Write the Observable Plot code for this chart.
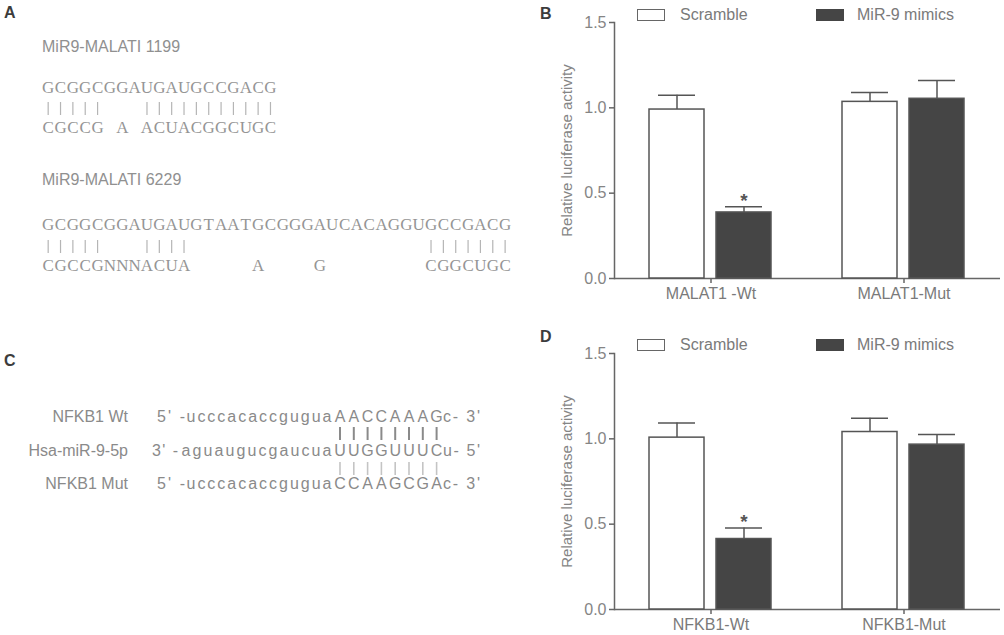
<!DOCTYPE html>
<html><head><meta charset="utf-8">
<script src="https://cdn.jsdelivr.net/npm/d3@7"></script>
<script src="https://cdn.jsdelivr.net/npm/@observablehq/plot@0.6"></script>
<style>
body{margin:0;background:#fff;}
#root{position:relative;width:1004px;height:635px;overflow:hidden;font-family:"Liberation Sans",Arial,sans-serif;}
.abs{position:absolute;}
.panel{position:absolute;font-weight:bold;font-size:16px;color:#3c3c3c;line-height:1;}
.leg{position:absolute;font-size:16px;color:#7a7a7a;line-height:1;white-space:nowrap;}
.sw{position:absolute;box-sizing:border-box;width:28px;height:12px;border:1.5px solid #666;}
</style></head>
<body><div id="root"></div>
<script>
// ---------- data ----------
const seriesNames = ["Scramble", "MiR-9 mimics"];
const yTicks = [0, 0.5, 1.0, 1.5];
const yLabel = "Relative luciferase activity";

// Panel B
const groupsB = ["MALAT1 -Wt", "MALAT1-Mut"];
const scrambleB = [0.99, 1.035];
const scrambleErrB = [0.083, 0.055];
const mimicsB = [0.387, 1.053];
const mimicsErrB = [0.033, 0.107];
const sigB = [true, false];

// Panel D
const groupsD = ["NFKB1-Wt", "NFKB1-Mut"];
const scrambleD = [1.007, 1.04];
const scrambleErrD = [0.086, 0.08];
const mimicsD = [0.413, 0.966];
const mimicsErrD = [0.064, 0.059];
const sigD = [true, false];

// Panel A
const aTitles = ["MiR9-MALATI 1199", "MiR9-MALATI 6229"];
const aTop = ["GCGGCGGAUGAUGCCGACG", "GCGGCGGAUGAUGTAATGCGGGAUCACAGGUGCCGACG"];
const aPairs = ["|||||   |||||||||||", "|||||   ||||                   |||||||"];
const aBottom = ["CGCCG A ACUACGGCUGC", "CGCCGNNNACUA     A    G        CGGCUGC"];

// Panel C
const cLabels = ["NFKB1 Wt", "Hsa-miR-9-5p", "NFKB1 Mut"];
const cPrefix = ["5' -", "3' -", "5' -"];
const cLower = ["ucccacaccgugua", "aguaugucgaucua", "ucccacaccgugua"];
const cUpper = ["AACCAAAG", "UUGGUUUC", "CCAAGCGA"];
const cSuffix = ["c- 3'", "u- 5'", "c- 3'"];

// ---------- layout ----------
const root = document.getElementById("root");

function addDiv(cls, left, top, text, extra) {
  const d = document.createElement("div");
  d.className = cls;
  d.style.left = left + "px";
  d.style.top = top + "px";
  if (text) d.textContent = text;
  if (extra) Object.assign(d.style, extra);
  root.appendChild(d);
  return d;
}

// Panel letters
addDiv("panel", 4, 5, "A");
addDiv("panel", 540, 6, "B");
addDiv("panel", 4, 353, "C");
addDiv("panel", 540, 329, "D");

// Text panels A and C
const svg = d3.create("svg").attr("width", 520).attr("height", 635)
  .style("position", "absolute").style("left", "0px").style("top", "0px");
root.appendChild(svg.node());

const aLayout = [
  {title: 52, top: 93, bar1: 102, bar2: 115, bottom: 133},
  {title: 185, top: 230, bar1: 240, bar2: 253, bottom: 271}
];
const ax0 = 42, aw = 12.35;
aTitles.forEach((t, k) => {
  const L = aLayout[k];
  svg.append("text").attr("x", 42).attr("y", L.title).text(t)
    .attr("font-family", "Liberation Sans, Arial, sans-serif").attr("font-size", 16).attr("fill", "#909090");
  const chars = (s, y) => {
    [...s].forEach((c, i) => {
      if (c === " ") return;
      svg.append("text").attr("x", ax0 + (i + 0.5) * aw).attr("y", y).attr("text-anchor", "middle")
        .attr("font-family", "Liberation Serif, Times New Roman, serif").attr("font-size", 17)
        .attr("fill", "#959595").text(c);
    });
  };
  chars(aTop[k], L.top);
  chars(aBottom[k], L.bottom);
  [...aPairs[k]].forEach((c, i) => {
    if (c !== "|") return;
    const x = ax0 + (i + 0.5) * aw;
    svg.append("line").attr("x1", x).attr("x2", x).attr("y1", L.bar1).attr("y2", L.bar2)
      .attr("stroke", "#b5b5b5").attr("stroke-width", 1.2);
  });
});

const cBase = [422, 456, 489];
const cPrefixX = [[157, 28], [152, 26], [157, 28]];
const cLowerX = [[186.5, 145], [181.5, 150], [186.5, 145]];
const cUx0 = 340, cUw = 13.8;
const sans = "Liberation Sans, Arial, sans-serif";
cLabels.forEach((lab, r) => {
  const y = cBase[r];
  const g = svg.append("g").attr("font-family", sans).attr("font-size", 16).attr("fill", "#8a8a8a");
  g.append("text").attr("x", 128).attr("y", y).attr("text-anchor", "end").text(lab);
  g.append("text").attr("x", cPrefixX[r][0]).attr("y", y).attr("textLength", cPrefixX[r][1])
    .attr("lengthAdjust", "spacing").style("white-space", "pre").text(cPrefix[r]);
  g.append("text").attr("x", cLowerX[r][0]).attr("y", y).attr("textLength", cLowerX[r][1])
    .attr("lengthAdjust", "spacing").text(cLower[r]);
  [...cUpper[r]].forEach((c, i) => {
    g.append("text").attr("x", cUx0 + i * cUw).attr("y", y).attr("text-anchor", "middle").text(c);
  });
  g.append("text").attr("x", 443).attr("y", y).attr("textLength", 37)
    .attr("lengthAdjust", "spacing").style("white-space", "pre").text(cSuffix[r]);
});
[[427, 440, "#8a8a8a", 2], [462, 475, "#c4c4c4", 1.6]].forEach(([y1, y2, col, w]) => {
  for (let i = 0; i < cUpper[0].length; i++) {
    const x = cUx0 + i * cUw;
    svg.append("line").attr("x1", x).attr("x2", x).attr("y1", y1).attr("y2", y2)
      .attr("stroke", col).attr("stroke-width", w);
  }
});

// Bar charts
function chart({groups, scramble, scrambleErr, mimics, mimicsErr, sig, height, marginTop, marginBottom}) {
  const rows = [];
  groups.forEach((g, i) => {
    rows.push({group: g, series: seriesNames[0], value: scramble[i], top: scramble[i] + scrambleErr[i], sig: false});
    rows.push({group: g, series: seriesNames[1], value: mimics[i], top: mimics[i] + mimicsErr[i], sig: sig[i]});
  });
  return Plot.plot({
    width: 484, height, marginLeft: 94, marginRight: 4, marginTop, marginBottom,
    style: {fontFamily: sans, fontSize: "16px", color: "#808080", background: "transparent", overflow: "visible"},
    fx: {domain: groups, padding: 0, label: null},
    x: {domain: seriesNames, paddingInner: 0.176, paddingOuter: 0.515, axis: null},
    y: {domain: [0, 1.5], label: null},
    color: {domain: seriesNames, range: ["#ffffff", "#454545"]},
    marks: [
      Plot.axisY({ticks: yTicks, tickFormat: d3.format(".1f"), tickSize: 5, tickPadding: 3, stroke: "#666",
        strokeWidth: 1.5, fill: "#858585", fontSize: 16, label: null}),
      Plot.axisY({ticks: [], tickSize: 0, fill: "#858585", fontSize: 15,
        label: yLabel, labelAnchor: "center", labelArrow: "none", labelOffset: 53}),
      Plot.axisFx({anchor: "bottom", tickSize: 5, tickPadding: 4, label: null, fontSize: 16,
        stroke: "#666", strokeWidth: 1.5, fill: "#7a7a7a"}),
      Plot.frame({anchor: "left", facetAnchor: "left", stroke: "#666", strokeWidth: 1.5}),
      Plot.ruleY([0], {stroke: "#666", strokeWidth: 1.5}),
      Plot.ruleX(rows, {fx: "group", x: "series", y1: "value", y2: "top", stroke: "#555", strokeWidth: 1.5}),
      Plot.tickY(rows, {fx: "group", x: "series", y: "top", stroke: "#555", strokeWidth: 1.5, insetLeft: 9, insetRight: 9}),
      Plot.barY(rows, {fx: "group", x: "series", y: "value", fill: "series", stroke: "#555", strokeWidth: 1.5}),
      Plot.text(rows.filter(d => d.sig), {fx: "group", x: "series", y: "top", text: () => "*",
        lineAnchor: "bottom", dy: 0, fontSize: 19, fontWeight: "bold", fill: "#555"})
    ]
  });
}

const chartB = chart({groups: groupsB, scramble: scrambleB, scrambleErr: scrambleErrB, mimics: mimicsB,
  mimicsErr: mimicsErrB, sig: sigB, height: 310, marginTop: 22, marginBottom: 32});
chartB.style.position = "absolute"; chartB.style.left = "520px"; chartB.style.top = "0px";
root.appendChild(chartB);

const chartD = chart({groups: groupsD, scramble: scrambleD, scrambleErr: scrambleErrD, mimics: mimicsD,
  mimicsErr: mimicsErrD, sig: sigD, height: 315, marginTop: 33, marginBottom: 26});
chartD.style.position = "absolute"; chartD.style.left = "520px"; chartD.style.top = "320px";
root.appendChild(chartD);

// Legends
[[0, 9], [1, 339]].forEach(([k, top]) => {
  addDiv("sw", 637, top, null, {background: "#fff"});
  addDiv("leg", 680, top - 2, seriesNames[0]);
  addDiv("sw", 816, top, null, {background: "#454545", borderColor: "#454545"});
  addDiv("leg", 857, top - 2, seriesNames[1]);
});
</script>
</body></html>
